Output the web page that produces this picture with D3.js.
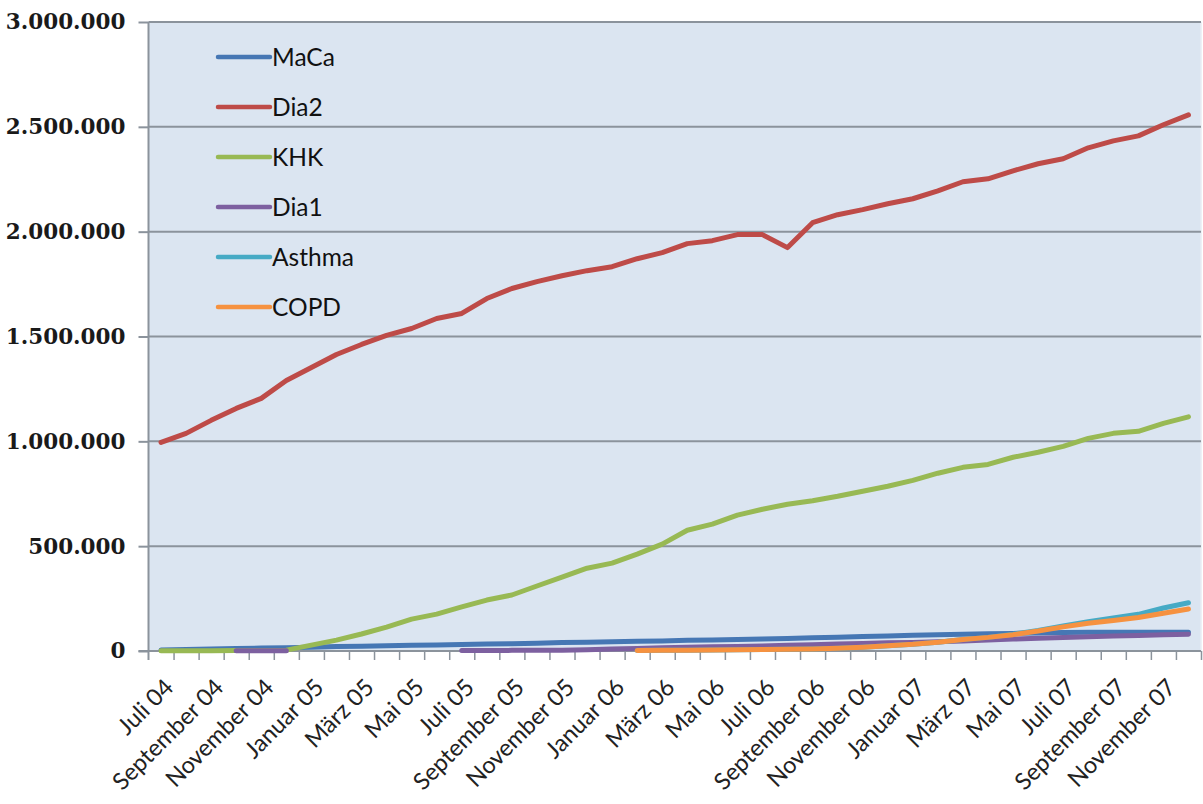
<html>
<head>
<meta charset="utf-8">
<script src="https://d3js.org/d3.v7.min.js"></script>
<style>
  body { margin: 0; background: #fff; }
</style>
</head>
<body>
<div class="chart"></div>
<script>
  // monthly values Juli 04 .. Dezember 07 (in thousands), null = no data
  const months = ["Juli 04","August 04","September 04","Oktober 04","November 04","Dezember 04",
    "Januar 05","Februar 05","März 05","April 05","Mai 05","Juni 05","Juli 05","August 05","September 05","Oktober 05","November 05","Dezember 05",
    "Januar 06","Februar 06","März 06","April 06","Mai 06","Juni 06","Juli 06","August 06","September 06","Oktober 06","November 06","Dezember 06",
    "Januar 07","Februar 07","März 07","April 07","Mai 07","Juni 07","Juli 07","August 07","September 07","Oktober 07","November 07","Dezember 07"];

  const maca = [5,7,9,12,14,16,18,21,23,25,27,29,31,33,35,37,40,42,44,46,48,51,53,55,57,60,63,66,69,72,75,78,80,82,84,86,88,89,89,90,90,90];
  const dia2 = [995,1038,1100,1157,1205,1290,1352,1414,1462,1505,1538,1586,1610,1681,1729,1762,1790,1814,1833,1871,1900,1943,1957,1986,1986,1924,2043,2081,2105,2133,2157,2195,2238,2252,2290,2324,2348,2400,2433,2457,2510,2557];
  const khk = [1,1,1,2,2,4,28,52,81,114,152,176,210,243,267,310,352,395,419,462,510,576,605,648,676,700,717,738,762,786,814,848,876,890,924,948,976,1014,1038,1048,1086,1117];
  const dia1 = [null,null,null,1,1,1,null,null,null,null,null,null,2,2,3,3,4,6,9,12,16,18,20,22,24,27,30,33,36,39,41,44,48,53,57,61,64,68,71,74,77,80];
  const asthma = [null,null,null,null,null,null,null,null,null,null,null,null,null,null,null,null,null,null,null,2,3,4,5,6,7,8,10,13,18,25,32,42,55,65,80,98,120,140,158,175,205,230];
  const copd = [null,null,null,null,null,null,null,null,null,null,null,null,null,null,null,null,null,null,null,2,3,4,5,6,7,8,10,13,18,25,32,42,55,65,78,95,115,132,145,160,180,200];

  const seriesNames = ["MaCa","Dia2","KHK","Dia1","Asthma","COPD"];
  const seriesValues = [maca, dia2, khk, dia1, asthma, copd];
  const seriesColors = ["#4677b4","#be4b48","#98b954","#7d60a0","#46aac5","#f69240"];
  const yTicks = [0,500000,1000000,1500000,2000000,2500000,3000000];

  const width = 1203, height = 804;
  const plotLeft = 148.5, plotRight = 1201, plotTop = 22, plotBottom = 651;

  const svg = d3.select('.chart').append('svg')
    .attr('width', width).attr('height', height);

  const x = d3.scaleBand().domain(months).range([plotLeft, plotRight]).padding(0);
  const xEdge = d3.scaleLinear().domain([0, months.length]).range([plotLeft, plotRight]);
  const y = d3.scaleLinear().domain([0, 3000000]).range([plotBottom, plotTop]);

  const de = d3.formatLocale({decimal: ",", thousands: ".", grouping: [3], currency: ["", "€"]});
  const fmt = de.format(",d");

  // plot area
  svg.append('rect')
    .attr('x', plotLeft).attr('y', plotTop)
    .attr('width', plotRight - plotLeft).attr('height', plotBottom - plotTop)
    .attr('fill', '#dbe5f1');
  svg.append('line')
    .attr('x1', plotRight).attr('x2', plotRight).attr('y1', plotTop).attr('y2', plotBottom)
    .attr('stroke', '#e8edf3').attr('stroke-width', 1.5);

  // gridlines
  svg.append('g').selectAll('line')
    .data(yTicks.filter(d => d > 0))
    .join('line')
    .attr('x1', plotLeft).attr('x2', plotRight)
    .attr('y1', d => y(d)).attr('y2', d => y(d))
    .attr('stroke', '#8b939c').attr('stroke-width', 2);

  // y axis
  const yAxis = svg.append('g')
    .attr('transform', `translate(${plotLeft},0)`)
    .call(d3.axisLeft(y).tickValues(yTicks).tickFormat(fmt).tickSize(10).tickPadding(13));
  yAxis.select('.domain').attr('stroke', '#8b939c').attr('stroke-width', 2)
    .attr('d', `M0,${plotTop}V${plotBottom + 9}`);
  yAxis.selectAll('.tick line').attr('stroke', '#8b939c').attr('stroke-width', 2);
  yAxis.selectAll('.tick text')
    .style('font-family', '"DejaVu Serif", serif')
    .style('font-weight', 'bold')
    .style('font-size', '21.5px')
    .attr('fill', '#1a1a1a');

  // x axis ticks at category edges
  const xTickAxis = svg.append('g')
    .attr('transform', `translate(0,${plotBottom})`)
    .call(d3.axisBottom(xEdge).tickValues(d3.range(1, months.length + 1)).tickFormat('').tickSize(9));
  xTickAxis.select('.domain').remove();
  xTickAxis.selectAll('.tick line').attr('stroke', '#8b939c').attr('stroke-width', 1.5);
  svg.append('line')
    .attr('x1', plotLeft - 10).attr('x2', plotRight)
    .attr('y1', plotBottom).attr('y2', plotBottom)
    .attr('stroke', '#8b939c').attr('stroke-width', 2);

  // x labels, every second month
  const labelMonths = months.filter((m, i) => i % 2 === 0);
  svg.append('g').selectAll('text')
    .data(labelMonths)
    .join('text')
    .attr('transform', d => `translate(${x(d) + x.bandwidth() / 2 + 8},${plotBottom + 32}) rotate(-45)`)
    .attr('text-anchor', 'end')
    .attr('dy', '0.35em')
    .style('font-family', 'Lato, sans-serif')
    .style('font-size', '23.5px')
    .attr('fill', '#222')
    .text(d => d);

  // lines
  const line = d3.line()
    .defined(d => d.v != null)
    .x(d => x(d.m) + x.bandwidth() / 2)
    .y(d => y(d.v * 1000));

  svg.append('g').selectAll('path')
    .data(seriesValues)
    .join('path')
    .attr('fill', 'none')
    .attr('stroke', (d, i) => seriesColors[i])
    .attr('stroke-width', 5)
    .attr('stroke-linejoin', 'round')
    .attr('stroke-linecap', 'round')
    .attr('d', vals => line(vals.map((v, i) => ({m: months[i], v: v}))));

  // legend
  const legend = svg.append('g').selectAll('g')
    .data(seriesNames)
    .join('g')
    .attr('transform', (d, i) => `translate(218,${57 + i * 50})`);
  legend.append('line')
    .attr('x1', 0).attr('x2', 52)
    .attr('stroke', (d, i) => seriesColors[i])
    .attr('stroke-width', 4.5)
    .attr('stroke-linecap', 'round');
  legend.append('text')
    .attr('x', 54).attr('dy', '0.36em')
    .style('font-family', 'Lato, sans-serif')
    .style('font-size', '24.5px')
    .attr('fill', '#111')
    .text(d => d);
</script>
</body>
</html>
